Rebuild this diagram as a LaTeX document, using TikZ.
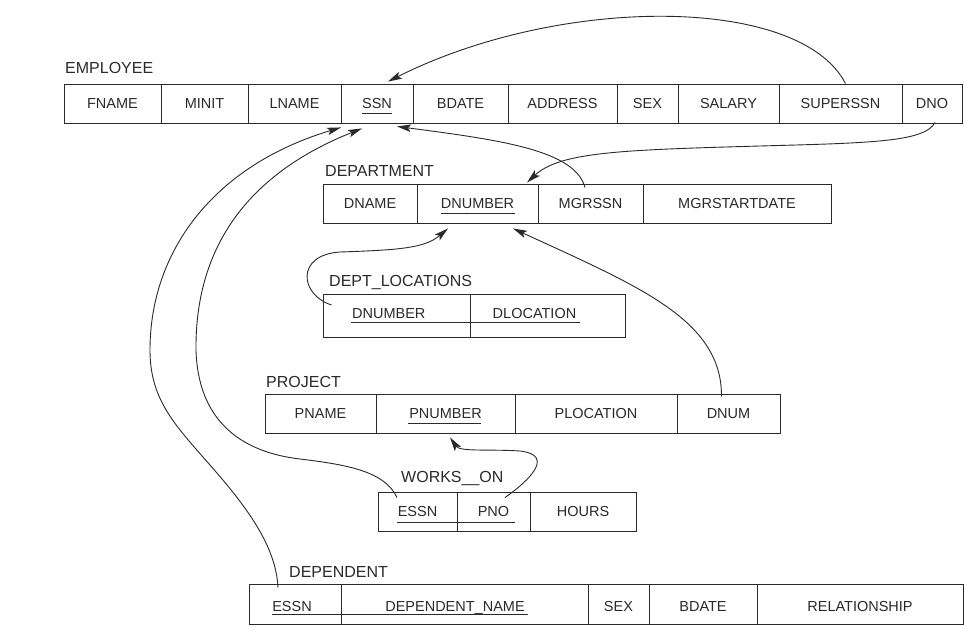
\documentclass[tikz,border=0pt]{standalone}
\usepackage{fontspec}
\setmainfont{Liberation Sans}
\usetikzlibrary{arrows.meta}
\definecolor{ink}{HTML}{2A2A2A}
\begin{document}
\begin{tikzpicture}[x=1pt,y=-1pt,
  cell/.style={draw=ink,line width=0.9pt,inner sep=0pt,minimum height=39pt,text height=10.5pt,text depth=0pt,font=\fontsize{14.5}{17}\selectfont,text=ink},
  title/.style={anchor=base west,inner sep=0pt,font=\fontsize{16}{19}\selectfont,text=ink},
  fk/.style={draw=ink,line width=0.9pt,-{Stealth[length=14pt,width=7.5pt,inset=3pt]}},
  uline/.style={draw=ink,line width=0.9pt}]
\useasboundingbox (0,0) rectangle (964,639);
\fill[white] (0,0) rectangle (964,639);

% EMPLOYEE
\node[title] (temp) at (65,73.5) {EMPLOYEE};
\node[cell,minimum width=97pt] (fname) at (112.5,103.5) {FNAME};
\node[cell,minimum width=87pt] (minit) at (204.5,103.5) {MINIT};
\node[cell,minimum width=93pt] (lname) at (294.5,103.5) {LNAME};
\node[cell,minimum width=72pt] (ssn) at (377,103.5) {SSN};
\node[cell,minimum width=95pt] (bdate) at (460.5,103.5) {BDATE};
\node[cell,minimum width=109pt] (address) at (562.5,103.5) {ADDRESS};
\node[cell,minimum width=61pt] (sex) at (647.5,103.5) {SEX};
\node[cell,minimum width=101pt] (salary) at (728.5,103.5) {SALARY};
\node[cell,minimum width=123pt] (superssn) at (840.5,103.5) {SUPERSSN};
\node[cell,minimum width=60pt] (dno) at (932,103.5) {DNO};

% DEPARTMENT
\node[title] (tdept) at (325,177) {DEPARTMENT};
\node[cell,minimum width=94pt] (dname) at (370,203.5) {DNAME};
\node[cell,minimum width=121pt] (dnumber) at (477.5,203.5) {DNUMBER};
\node[cell,minimum width=105pt] (mgrssn) at (590.5,203.5) {MGRSSN};
\node[cell,minimum width=188pt] (mgrstart) at (737,203.5) {MGRSTARTDATE};

% DEPT_LOCATIONS
\node[title] (tdl) at (329,287) {DEPT\_LOCATIONS};
\node[cell,minimum width=146.5pt,minimum height=43pt,text depth=4.5pt] (dldnum) at (396.75,315.5) {\hspace*{-16pt}DNUMBER};
\node[cell,minimum width=155pt,minimum height=43pt,text depth=4.5pt] (dlloc) at (547.5,315.5) {\hspace*{-26pt}DLOCATION};

% PROJECT
\node[title] (tproj) at (266,387) {PROJECT};
\node[cell,minimum width=111pt] (pname) at (320.5,413.5) {PNAME};
\node[cell,minimum width=139pt] (pnumber) at (445.5,413.5) {PNUMBER};
\node[cell,minimum width=162pt] (ploc) at (596,413.5) {PLOCATION};
\node[cell,minimum width=103pt] (dnum) at (728.5,413.5) {DNUM};

% WORKS_ON
\node[title] (two) at (401,482.5) {WORKS\_\_ON};
\node[cell,minimum width=79pt] (wessn) at (417.5,511.5) {ESSN};
\node[cell,minimum width=73pt] (wpno) at (493.5,511.5) {PNO};
\node[cell,minimum width=106pt] (whours) at (583,511.5) {HOURS};

% DEPENDENT
\node[title] (tdep) at (289,577) {DEPENDENT};
\node[cell,minimum width=92pt,minimum height=40pt,text height=14pt] (dessn) at (295,604) {\hspace*{-6pt}ESSN};
\node[cell,minimum width=247pt,minimum height=40pt,text height=14pt] (depname) at (464.5,604) {\hspace*{-19pt}DEPENDENT\_NAME};
\node[cell,minimum width=61pt,minimum height=40pt,text height=14pt] (dsex) at (618.5,604) {SEX};
\node[cell,minimum width=108pt,minimum height=40pt,text height=14pt] (dbdate) at (703,604) {BDATE};
\node[cell,minimum width=206pt,minimum height=40pt,text height=14pt] (drel) at (860,604) {RELATIONSHIP};

% key underlines
\draw[uline] ([xshift=-15pt,yshift=-9.5pt]ssn.center) -- ([xshift=15pt,yshift=-9.5pt]ssn.center);
\draw[uline] ([xshift=-37pt,yshift=-9.5pt]dnumber.center) -- ([xshift=37pt,yshift=-9.5pt]dnumber.center);
\draw[uline] ([xshift=-45.5pt,yshift=-6.5pt]dldnum.center) -- ([xshift=32.5pt,yshift=-6.5pt]dlloc.center);
\draw[uline] ([xshift=-38pt,yshift=-9.5pt]pnumber.center) -- ([xshift=35pt,yshift=-9.5pt]pnumber.center);
\draw[uline] ([xshift=-21pt,yshift=-10.5pt]wessn.center) -- ([xshift=21.5pt,yshift=-10.5pt]wpno.center);
\draw[uline] ([xshift=-23pt,yshift=-10pt]dessn.center) -- ([xshift=63pt,yshift=-10pt]depname.center);

% foreign keys
\draw[fk] ([xshift=5pt]superssn.north) .. controls (800,-5) and (560,-5) .. ([xshift=11pt,yshift=2pt]ssn.north);
\draw[fk] ([xshift=3pt,yshift=1pt]dno.south) .. controls (925,142) and (870,143) .. (760,146) .. controls (620,150) and (560,152) .. ([xshift=49.5pt,yshift=1pt]dnumber.north);
\draw[fk] ([xshift=-5.5pt,yshift=-4pt]mgrssn.north) .. controls (575,150) and (500,140) .. ([xshift=20pt,yshift=-3pt]ssn.south);
\draw[fk] ([xshift=-17pt,yshift=-4pt]dessn.north) .. controls (276,545) and (245,505) .. (210,465) .. controls (175,425) and (150,400) .. (150,350) .. controls (150,250) and (215,165) .. ([xshift=-36pt,yshift=-4pt]ssn.south);
\draw[fk] ([xshift=-20.5pt,yshift=-6pt]wessn.north) .. controls (385,472) and (350,465) .. (300,459) .. controls (240,452) and (198,420) .. (196,350) .. controls (195,250) and (245,175) .. ([xshift=-15pt,yshift=-5pt]ssn.south);
\draw[fk] ([xshift=8.5pt,yshift=10.5pt]dldnum.west) .. controls (300,295) and (295,255) .. (340,252) .. controls (400,250) and (425,248) .. ([xshift=-29.5pt,yshift=-5pt]dnumber.south);
\draw[fk] ([xshift=-7pt,yshift=-3pt]dnum.north) .. controls (722,320) and (640,287) .. ([xshift=35.5pt,yshift=-5pt]dnumber.south);
\draw[fk] ([xshift=11.5pt,yshift=-6pt]wpno.north) .. controls (530,480) and (555,455) .. (520,451) .. controls (490,449) and (460,452) .. ([xshift=4.5pt,yshift=-4pt]pnumber.south);
\end{tikzpicture}
\end{document}
